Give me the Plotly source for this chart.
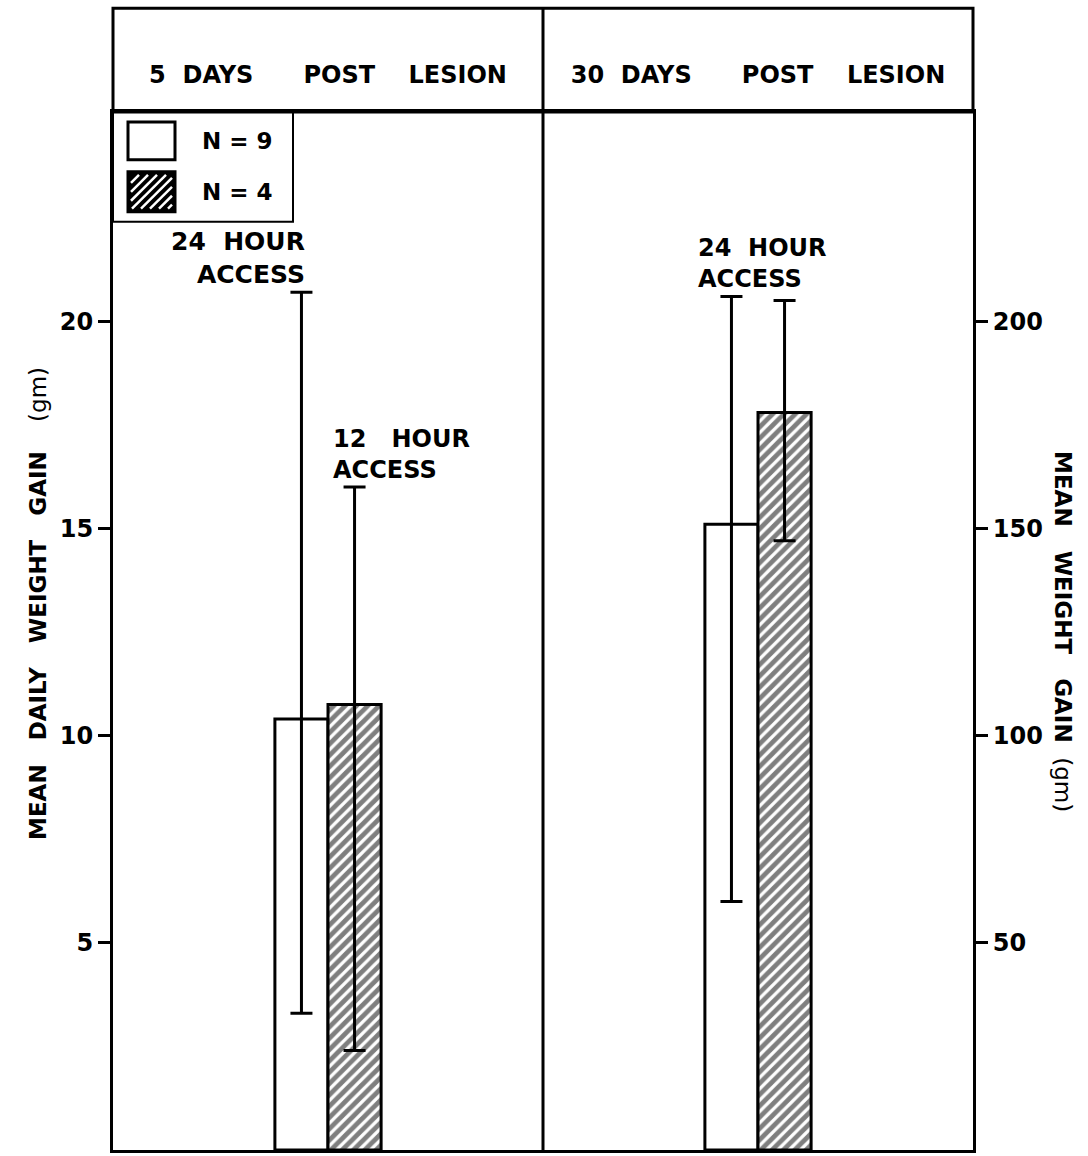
import plotly.graph_objects as go

# ---------------- data ----------------
categories = ["5 DAYS POST LESION", "30 DAYS POST LESION"]
NB = "\u00a0"
category_labels = [
    "5" + NB * 2 + "DAYS" + NB * 6 + "POST" + NB * 4 + "LESION",
    "30" + NB * 2 + "DAYS" + NB * 6 + "POST" + NB * 4 + "LESION",
]
group_names = ["N = 9", "N = 4"]
access_labels = ["24" + NB * 2 + "HOUR<br>ACCESS", "12" + NB * 3 + "HOUR<br>ACCESS", "24" + NB * 2 + "HOUR<br>ACCESS"]

# 5 days post lesion: mean daily weight gain (gm) -> left axis
daily_gain_mean = [10.4, 10.75]      # N=9 (open), N=4 (hatched)
daily_gain_upper = [20.7, 16.0]
daily_gain_lower = [3.3, 2.4]

# 30 days post lesion: mean weight gain (gm) -> right axis
total_gain_mean = [151, 178]
total_gain_upper = [206, 205]
total_gain_lower = [60, 147]

left_ticks = [5, 10, 15, 20]
right_ticks = [50, 100, 150, 200]

left_title = ("<b>MEAN" + NB * 3 + "DAILY" + NB * 3 + "WEIGHT" + NB * 3 + "GAIN</b>"
              + NB * 4 + "(gm)")
right_title = ("<b>MEAN" + NB * 3 + "WEIGHT" + NB * 3 + "GAIN</b>" + NB * 2 + "(gm)")

# ---------------- layout helpers ----------------
W, H = 1088, 1156
L, R, T, B = 113, 115, 112, 3
PW, PH = W - L - R, H - T - B
FONT = "DejaVu Sans"


def px(X):
    return (X - L) / PW


def py(Y):
    return (H - B - Y) / PH


hatch = dict(shape="/", fgcolor="black", bgcolor="white", size=8, solidity=0.6)
err_style = dict(type="data", symmetric=False, color="black", thickness=3, width=11)

fig = go.Figure()

# 5-day bars (left axis)
for i, name in enumerate(group_names):
    marker = dict(color="white", line=dict(color="black", width=3))
    if i == 1:
        marker["pattern"] = hatch
    fig.add_trace(go.Bar(
        x=[categories[0]], y=[daily_gain_mean[i]], name=name, yaxis="y",
        marker=marker, showlegend=False,
        error_y=dict(err_style, array=[daily_gain_upper[i] - daily_gain_mean[i]],
                     arrayminus=[daily_gain_mean[i] - daily_gain_lower[i]]),
    ))

# 30-day bars (right axis)
for i, name in enumerate(group_names):
    marker = dict(color="white", line=dict(color="black", width=3))
    if i == 1:
        marker["pattern"] = hatch
    fig.add_trace(go.Bar(
        x=[categories[1]], y=[total_gain_mean[i]], name=name, yaxis="y2",
        marker=marker, showlegend=False,
        error_y=dict(err_style, array=[total_gain_upper[i] - total_gain_mean[i]],
                     arrayminus=[total_gain_mean[i] - total_gain_lower[i]]),
    ))

tickfont = dict(family=FONT, size=24, color="black", weight="bold")

fig.update_layout(
    width=W, height=H, autosize=False,
    margin=dict(l=L, r=R, t=T, b=B, pad=0),
    paper_bgcolor="white", plot_bgcolor="white",
    barmode="group", bargap=0.753, bargroupgap=0,
    font=dict(family=FONT, color="black"),
    xaxis=dict(
        type="category", side="top", range=[-0.5, 1.5],
        tickvals=categories, ticktext=category_labels, ticks="",
        tickfont=dict(family=FONT, size=24, color="black", weight="bold"),
        ticklabelstandoff=16,
        showline=True, mirror=True, linecolor="black", linewidth=3,
        showgrid=False, zeroline=False, fixedrange=True,
    ),
    yaxis=dict(
        range=[0, 25.05], tickvals=left_ticks, ticks="outside", ticklen=12,
        tickwidth=2.5, tickcolor="black", tickfont=tickfont,
        showline=True, linecolor="black", linewidth=3,
        showgrid=False, zeroline=False, fixedrange=True,
    ),
    yaxis2=dict(
        range=[0, 250.5], tickvals=right_ticks, ticks="outside", ticklen=12,
        tickwidth=2.5, tickcolor="black", tickfont=tickfont,
        overlaying="y", side="right",
        showline=True, linecolor="black", linewidth=3,
        showgrid=False, zeroline=False, fixedrange=True,
    ),
)

shapes = []
# header box and panel divider
shapes.append(dict(type="rect", xref="paper", yref="paper", x0=0, x1=1, y0=1, y1=py(8),
                   line=dict(color="black", width=3)))
shapes.append(dict(type="line", xref="paper", yref="paper", x0=0.5, x1=0.5, y0=0, y1=py(8),
                   line=dict(color="black", width=3)))
# legend box
shapes.append(dict(type="rect", xref="paper", yref="paper", x0=px(113), x1=px(293), y0=py(222), y1=py(112),
                   line=dict(color="black", width=2)))
# legend swatches
shapes.append(dict(type="rect", xref="paper", yref="paper", x0=px(128), x1=px(175), y0=py(160), y1=py(122),
                   line=dict(color="black", width=3), fillcolor="white"))
xa, xb, ya, yb = 128, 175, 172, 212
shapes.append(dict(type="rect", xref="paper", yref="paper", x0=px(xa), x1=px(xb), y0=py(yb), y1=py(ya),
                   line=dict(color="black", width=3), fillcolor="black"))
k = xa + ya + 5
while k < xb + yb:
    X0 = max(xa + 3, k - (yb - 3))
    X1 = min(xb - 3, k - (ya + 3))
    if X1 > X0:
        shapes.append(dict(type="line", xref="paper", yref="paper",
                           x0=px(X0), y0=py(k - X0), x1=px(X1), y1=py(k - X1),
                           line=dict(color="white", width=2.5)))
    k += 9
fig.update_layout(shapes=shapes)

ann_font = dict(family=FONT, size=24, color="black", weight="bold")
annotations = [
    dict(xref="paper", yref="paper", x=px(200), y=py(141), text=group_names[0], showarrow=False,
         xanchor="left", yanchor="middle", font=dict(ann_font, size=23)),
    dict(xref="paper", yref="paper", x=px(200), y=py(192), text=group_names[1], showarrow=False,
         xanchor="left", yanchor="middle", font=dict(ann_font, size=23)),
    dict(xref="paper", yref="y", x=px(307), y=daily_gain_upper[0], yshift=1, text=access_labels[0],
         showarrow=False, xanchor="right", yanchor="bottom", align="right", font=dict(ann_font, size=25)),
    dict(xref="paper", yref="y", x=px(331), y=daily_gain_upper[1], yshift=1, text=access_labels[1],
         showarrow=False, xanchor="left", yanchor="bottom", align="left", font=ann_font),
    dict(xref="paper", yref="y2", x=px(696), y=total_gain_upper[0], yshift=1, text=access_labels[2],
         showarrow=False, xanchor="left", yanchor="bottom", align="left", font=ann_font),
    dict(xref="paper", yref="paper", x=px(38), y=0.526, text=left_title, textangle=-90,
         showarrow=False, xanchor="center", yanchor="middle",
         font=dict(family=FONT, size=23, color="black")),
    dict(xref="paper", yref="paper", x=px(1063), y=0.5, text=right_title, textangle=90,
         showarrow=False, xanchor="center", yanchor="middle",
         font=dict(family=FONT, size=23, color="black")),
]
fig.update_layout(annotations=annotations)

fig.write_html("out.html", config=dict(displayModeBar=False))
